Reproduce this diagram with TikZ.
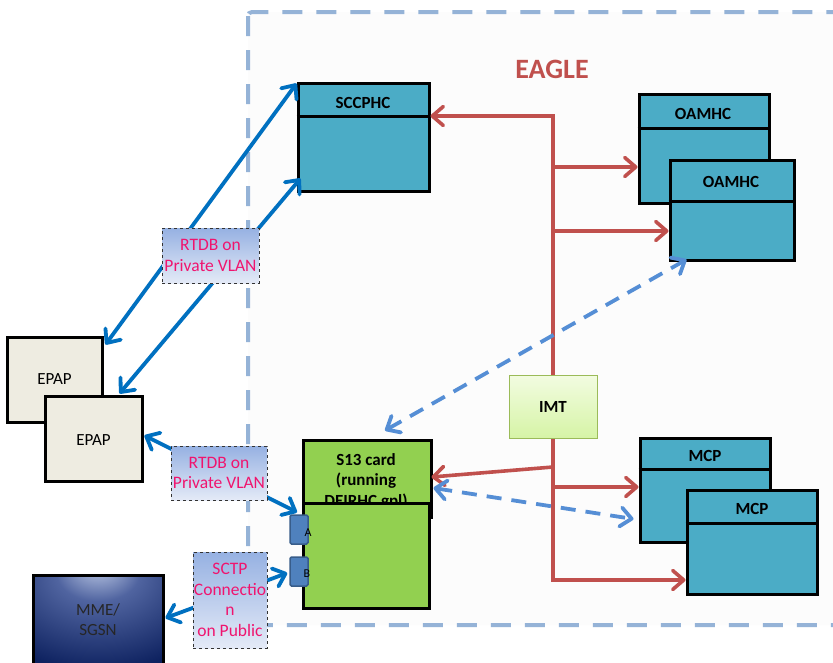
\documentclass[tikz,border=0pt]{standalone}
\usepackage{fontspec}
\setmainfont{Carlito}
\usetikzlibrary{arrows.meta}
\definecolor{cardteal}{RGB}{75,172,198}
\definecolor{redline}{RGB}{192,80,77}
\definecolor{blueline}{RGB}{0,112,192}
\definecolor{bluedash}{RGB}{85,142,213}
\definecolor{borderblue}{RGB}{149,179,215}
\definecolor{epapfill}{RGB}{238,236,225}
\definecolor{s13green}{RGB}{146,208,80}
\definecolor{portblue}{RGB}{79,129,189}
\definecolor{portedge}{RGB}{56,93,138}
\definecolor{pinktext}{RGB}{240,20,110}
\definecolor{lbltop}{RGB}{150,177,226}
\definecolor{lblbot}{RGB}{228,234,247}
\definecolor{imttop}{RGB}{242,252,225}
\definecolor{imtbot}{RGB}{214,244,166}
\definecolor{imtedge}{RGB}{155,187,89}
\definecolor{mmelight}{RGB}{196,208,234}
\definecolor{mmedark}{RGB}{14,34,96}
\definecolor{mmemid}{RGB}{80,100,160}
\pgfdeclareradialshading{mmeshade}{\pgfpoint{0bp}{32bp}}{color(0bp)=(mmelight); color(16bp)=(mmemid); color(45bp)=(mmedark); color(90bp)=(mmedark)}
\begin{document}
\begin{tikzpicture}[x=1pt,y=-1pt,
  font=\fontsize{17}{20.5}\selectfont,
  card/.style={draw=black,line width=3pt,fill=cardteal,inner sep=0pt},
  hdr/.style={font=\fontsize{17}{20.5}\selectfont\bfseries,inner sep=0pt},
  epapbox/.style={draw=black,line width=3pt,fill=epapfill,inner sep=0pt},
  s13box/.style={draw=black,line width=3pt,fill=s13green,inner sep=0pt},
  portbox/.style={draw=portedge,line width=1.5pt,fill=portblue,rounded corners=1.5pt,inner sep=0pt,minimum width=18pt,minimum height=29pt},
  lblbox/.style={draw=black!80,dashed,line width=0.8pt,top color=lbltop,bottom color=lblbot,text=pinktext,align=center,inner sep=0pt,font=\fontsize{17.5}{20.5}\selectfont},
  redarrow/.style={draw=redline,line width=3.6pt,-{Straight Barb[length=11pt,width=19pt,round]}},
  bluearrow/.style={draw=blueline,line width=3.8pt,{Straight Barb[length=11pt,width=19pt,round]}-{Straight Barb[length=11pt,width=19pt,round]}},
  dasharrow/.style={draw=bluedash,line width=3.8pt,dash pattern=on 15pt off 10pt,{Straight Barb[length=11pt,width=19pt,round]}-{Straight Barb[length=11pt,width=19pt,round]}}
]
\useasboundingbox (0,0) rectangle (833,662);
\fill[white] (0,0) rectangle (833,662);
% EAGLE frame
\draw[borderblue,line width=4pt,dash pattern=on 20pt off 14pt,rounded corners=4pt,fill=black!1] (248,12) rectangle (840,625);
\node[font=\fontsize{28}{32}\selectfont\bfseries,text=redline,inner sep=0pt] (eagle) at (552,69) {EAGLE};

% SCCPHC
\node[card,minimum width=131pt,minimum height=108pt] (scc) at (363.5,137) {};
\draw[line width=3pt] (scc.west |- 0,116) -- (scc.east |- 0,116);
\node[hdr] (scct) at (363,103) {SCCPHC};
% OAMHC
\node[card,minimum width=130pt,minimum height=109pt] (oam1) at (704,148.5) {};
\draw[line width=3pt] (oam1.west |- 0,128) -- (oam1.east |- 0,128);
\node[hdr] (oam1t) at (703,113.5) {OAMHC};
\node[card,minimum width=124pt,minimum height=100pt] (oam2) at (732,210) {};
\draw[line width=3pt] (oam2.west |- 0,201) -- (oam2.east |- 0,201);
\node[hdr] (oam2t) at (731,182) {OAMHC};
% MCP
\node[card,minimum width=130pt,minimum height=104pt] (mcp1) at (705,490) {};
\draw[line width=3pt] (mcp1.west |- 0,469) -- (mcp1.east |- 0,469);
\node[hdr] (mcp1t) at (705,456) {MCP};
\node[card,minimum width=130pt,minimum height=104pt] (mcp2) at (752,542) {};
\draw[line width=3pt] (mcp2.west |- 0,523) -- (mcp2.east |- 0,523);
\node[hdr] (mcp2t) at (752,509) {MCP};
% IMT
\node[draw=imtedge,line width=1pt,top color=imttop,bottom color=imtbot,minimum width=88pt,minimum height=63pt,inner sep=0pt] (imt) at (553,406.5) {};
\node[hdr] (imtt) at (553,407) {IMT};
% S13 card
\node[s13box,minimum width=128pt,minimum height=77pt] (s13top) at (367,478.5) {};
\node[font=\fontsize{17}{20.5}\selectfont\bfseries,align=center,inner sep=0pt] (s13t) at (366,481) {S13 card\\(running\\DEIRHC gpl)};
\node[s13box,minimum width=126pt,minimum height=105pt] (s13bot) at (366,555.5) {};
% ports
\node[portbox] (pa) at (299,529.5) {};
\node[portbox] (pb) at (299,571.5) {};
\node[font=\fontsize{12}{14}\selectfont,inner sep=0pt] (pat) at (308,533) {A};
\node[font=\fontsize{12}{14}\selectfont,inner sep=0pt] (pbt) at (307,574) {B};
% EPAP
\node[epapbox,minimum width=95pt,minimum height=85pt] (epap1) at (54.5,379.5) {EPAP};
\node[epapbox,minimum width=97pt,minimum height=85pt] (epap2) at (93.5,438.5) {};
\node[inner sep=0pt] (epap2t) at (93.5,440) {EPAP};
% MME
\node[draw=black,line width=3pt,shading=mmeshade,minimum width=130pt,minimum height=89pt,inner sep=0pt,align=center,text=black!85] (mme) at (98,619.5) {MME/\\SGSN};

% red connections
\coordinate (rtop) at (553,116);
\coordinate (rb1) at (553,167);
\coordinate (rb2) at (553,231);
\coordinate (rb3) at (553,467);
\coordinate (rb4) at (553,487);
\coordinate (rb5) at (553,580);
\draw[redarrow] (imt.north) |- (scc.east |- rtop);
\draw[redarrow] (rb1) -- (rb1 -| oam1.west);
\draw[redarrow] (rb2) -- (rb2 -| oam2.west);
\draw[redarrow] (imt.south) |- (rb5 -| mcp2.west);
\draw[redarrow] (rb3) -- ([shift={(-1,-1.5)}]s13top.east);
\draw[redarrow] (rb4) -- (rb4 -| mcp1.west);

% blue dashed connections
\draw[dasharrow] ([shift={(18,-8)}]s13top.north) -- ([shift={(18,-2)}]oam2.south west);
\draw[dasharrow] ([shift={(1,9.5)}]s13top.east) -- ([shift={(-5,29)}]mcp1.west);

% blue solid connections
\draw[bluearrow] ([shift={(2,9)}]epap1.north east) -- ([shift={(0,2)}]scc.north west);
\draw[bluearrow] ([shift={(-24,-1)}]epap2.north east) -- ([shift={(4,-14)}]scc.south west);
\draw[bluearrow] ([shift={(1,-3)}]epap2.east) -- ([shift={(-2,-2)}]pa.north);
\draw[bluearrow] ([shift={(1,-1.5)}]mme.east) -- ([shift={(-2,1.5)}]pb.west);

% labels
\node[lblbox,minimum width=97pt,minimum height=55pt] (rtdb1) at (210.5,255.5) {RTDB on\\Private VLAN};
\node[lblbox,minimum width=96pt,minimum height=54pt] (rtdb2) at (219,473) {RTDB on\\Private VLAN};
\node[lblbox,minimum width=74pt,minimum height=96pt] (sctp) at (230,600) {SCTP\\Connectio\\n\\on Public};
\end{tikzpicture}
\end{document}
